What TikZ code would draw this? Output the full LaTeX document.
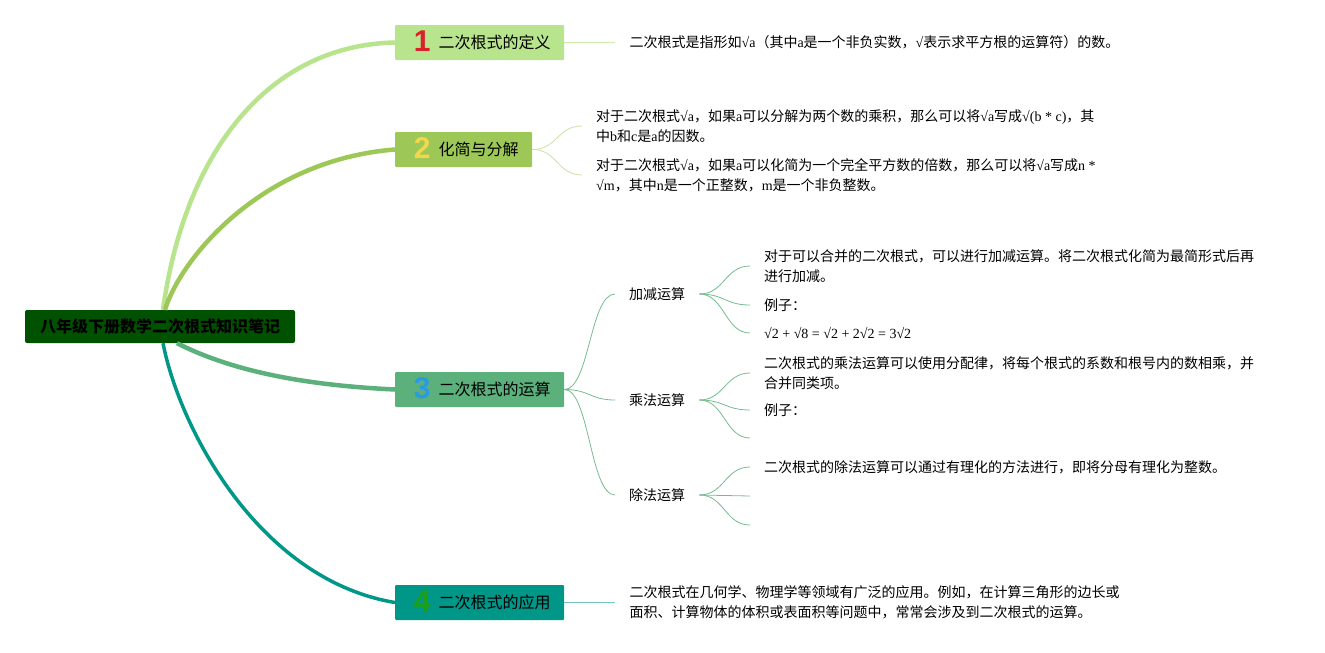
\documentclass[tikz,border=0pt]{standalone}
\usepackage{fontspec}
\setmainfont{Noto Sans CJK SC}
\newfontfamily\lf{Liberation Serif}
\newfontfamily\nf{Liberation Sans}
\usetikzlibrary{positioning}

\definecolor{rootgreen}{RGB}{0,82,0}
\definecolor{bone}{RGB}{183,228,140}
\definecolor{btwo}{RGB}{157,200,88}
\definecolor{bthree}{RGB}{91,176,123}
\definecolor{bfour}{RGB}{0,150,136}
\definecolor{nred}{RGB}{217,32,43}
\definecolor{nyellow}{RGB}{242,214,75}
\definecolor{nblue}{RGB}{42,155,224}
\definecolor{ngreen}{RGB}{28,160,28}

\newcommand{\bnum}[2]{\raisebox{-3pt}{\fontsize{30}{30}\selectfont\nf\bfseries\color{#1}#2}}
\newcommand{\la}[1]{{\lf #1}}

\begin{document}
\begin{tikzpicture}[x=1pt, y=-1pt,
        root/.style={fill=rootgreen, rounded corners=2pt, minimum width=270pt, minimum height=33pt, inner sep=0pt, text height=13pt, text depth=2pt, font=\fontsize{16}{16}\selectfont\bfseries},
        topic/.style={rounded corners=1pt, minimum height=35pt, inner sep=0pt, text height=13pt, text depth=2pt, anchor=west, font=\fontsize{16}{16}\selectfont},
        leaf/.style={align=left, inner xsep=14pt, inner ysep=2pt, anchor=west, font=\fontsize{14}{20}\selectfont},
        twig/.style={to path={.. controls ([xshift=25pt]\tikztostart) and ([xshift=-25pt]\tikztotarget) .. (\tikztotarget)}},
        node distance=51pt
    ]
    \useasboundingbox (0,0) rectangle (1325,653);

    \node[root]                                    (root) at (160,326.5) {八年级下册数学二次根式知识笔记};
    \node[topic, fill=bone, minimum width=169pt]   (b1)   at (395,42.5)  {\hspace*{5pt}\bnum{nred}{1}\hspace{8pt}二次根式的定义};
    \node[topic, fill=btwo, minimum width=137pt]   (b2)   at (395,149.5) {\hspace*{5pt}\bnum{nyellow}{2}\hspace{8pt}化简与分解};
    \node[topic, fill=bthree, minimum width=169pt] (b3)   at (395,389.5) {\hspace*{5pt}\bnum{nblue}{3}\hspace{8pt}二次根式的运算};
    \node[topic, fill=bfour, minimum width=169pt]  (b4)   at (395,602.5) {\hspace*{5pt}\bnum{ngreen}{4}\hspace{8pt}二次根式的应用};

    \node[leaf] (def)  [right=of b1] {二次根式是指形如\la{√a}（其中\la{a}是一个非负实数，\la{√}表示求平方根的运算符）的数。};
    \node[leaf] (sim1) at (582,126) {对于二次根式\la{√a}，如果\la{a}可以分解为两个数的乘积，那么可以将\la{√a}写成\la{√(b * c)}，其\\中\la{b}和\la{c}是\la{a}的因数。};
    \node[leaf] (sim2) at (582,175) {对于二次根式\la{√a}，如果\la{a}可以化简为一个完全平方数的倍数，那么可以将\la{√a}写成\la{n *}\\\la{√m}，其中\la{n}是一个正整数，\la{m}是一个非负整数。};

    \node[leaf] (add)  at (615,294) {加减运算};
    \node[leaf] (mul)  at (615,400) {乘法运算};
    \node[leaf] (dvd)  at (615,495) {除法运算};
    \node[leaf] (add1) at (750,266) {对于可以合并的二次根式，可以进行加减运算。将二次根式化简为最简形式后再\\进行加减。};
    \node[leaf] (add2) at (750,305) {例子：};
    \node[leaf] (add3) at (750,333) {\la{√2 + √8 = √2 + 2√2 = 3√2}};
    \node[leaf] (mul1) at (750,373) {二次根式的乘法运算可以使用分配律，将每个根式的系数和根号内的数相乘，并\\合并同类项。};
    \node[leaf] (mul2) at (750,410) {例子：};
    \coordinate (mul3) at (750,438);
    \node[leaf] (dvd1) at (750,467) {二次根式的除法运算可以通过有理化的方法进行，即将分母有理化为整数。};
    \coordinate (dvd2) at (750,496);
    \coordinate (dvd3) at (750,525);

    \node[leaf] (app)  [right=of b4] {二次根式在几何学、物理学等领域有广泛的应用。例如，在计算三角形的边长或\\面积、计算物体的体积或表面积等问题中，常常会涉及到二次根式的运算。};

    \draw[bone, line width=4.5pt]   ([xshift=3pt]root.north) .. controls (185,150) and (270,45) .. (b1.west);
    \draw[btwo, line width=4.5pt]   ([xshift=5pt]root.north) .. controls (180,260) and (260,160) .. (b2.west);
    \draw[bthree, line width=4.5pt] ([xshift=17pt]root.south) .. controls (230,370) and (300,385) .. (b3.west);
    \draw[bfour, line width=3.5pt]  ([xshift=3pt]root.south) .. controls (180,430) and (260,580) .. (b4.west);

    \draw[bone!70, line width=0.8pt] (b1.east) -- (def.west);
    \draw[btwo!55, line width=0.8pt] (b2.east) to[twig] (sim1.west);
    \draw[btwo!55, line width=0.8pt] (b2.east) to[twig] (sim2.west);
    \draw[bthree!85, line width=0.8pt] (b3.east) to[twig] (add.west);
    \draw[bthree!85, line width=0.8pt] (b3.east) to[twig] (mul.west);
    \draw[bthree!85, line width=0.8pt] (b3.east) to[twig] (dvd.west);
    \draw[bthree!85, line width=0.8pt] (add.east) to[twig] (add1.west);
    \draw[bthree!85, line width=0.8pt] (add.east) to[twig] (add2.west);
    \draw[bthree!85, line width=0.8pt] (add.east) to[twig] (add3.west);
    \draw[bthree!85, line width=0.8pt] (mul.east) to[twig] (mul1.west);
    \draw[bthree!85, line width=0.8pt] (mul.east) to[twig] (mul2.west);
    \draw[bthree!85, line width=0.8pt] (mul.east) to[twig] (mul3);
    \draw[bthree!85, line width=0.8pt] (dvd.east) to[twig] (dvd1.west);
    \draw[bthree!85, line width=0.8pt] (dvd.east) to[twig] (dvd2);
    \draw[bthree!85, line width=0.8pt] (dvd.east) to[twig] (dvd3);
    \draw[bfour!55, line width=0.8pt] (b4.east) -- (app.west);
\end{tikzpicture}
\end{document}
